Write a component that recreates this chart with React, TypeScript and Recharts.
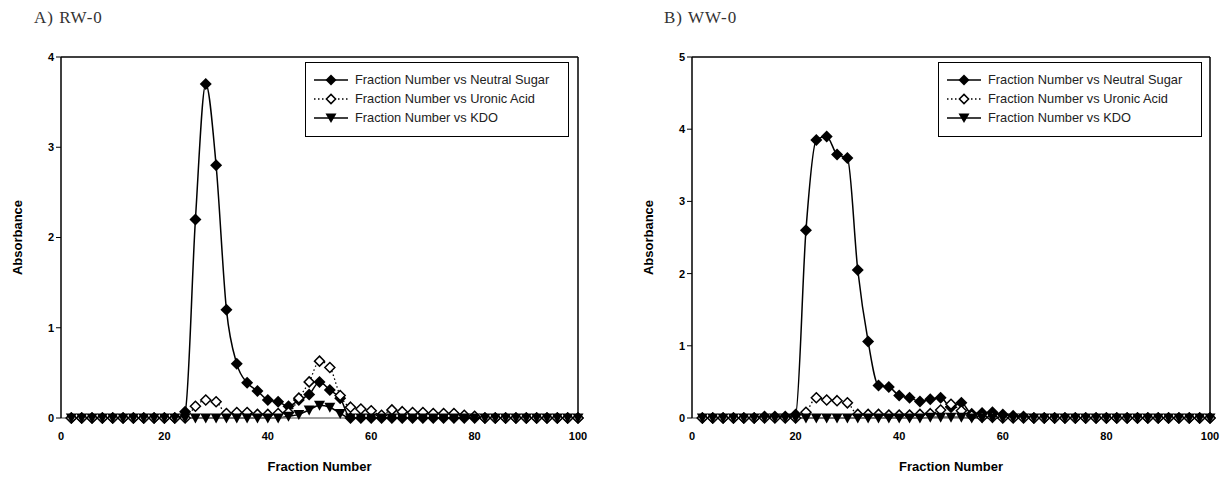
import React from 'react';
import { LineChart, Line, XAxis, YAxis, ReferenceLine } from 'recharts';

// fraction numbers (x categories)
const fractions = [
  2, 4, 6, 8, 10, 12, 14, 16, 18, 20, 22, 24, 26, 28, 30, 32, 34, 36, 38, 40, 42, 44, 46, 48, 50,
  52, 54, 56, 58, 60, 62, 64, 66, 68, 70, 72, 74, 76, 78, 80, 82, 84, 86, 88, 90, 92, 94, 96, 98, 100,
];

// A) RW-0
const rwNeutralSugar = [
  0, 0, 0, 0, 0, 0, 0, 0, 0, 0, 0, 0.07, 2.2, 3.7, 2.8, 1.2, 0.6, 0.39, 0.3, 0.2, 0.18, 0.13, 0.2, 0.26, 0.4,
  0.31, 0.22, 0, 0, 0, 0, 0, 0, 0, 0, 0, 0, 0, 0, 0, 0, 0, 0, 0, 0, 0, 0, 0, 0, 0,
];
const rwUronicAcid = [
  0, 0, 0, 0, 0, 0, 0, 0, 0, 0, 0, 0, 0.13, 0.2, 0.18, 0.05, 0.06, 0.06, 0.04, 0.04, 0.05, 0.06, 0.22, 0.4, 0.63,
  0.56, 0.25, 0.12, 0.1, 0.08, 0.03, 0.09, 0.07, 0.06, 0.06, 0.05, 0.05, 0.05, 0.03, 0.02, 0, 0, 0, 0, 0, 0, 0, 0, 0, 0,
];
const rwKdo = [
  0, 0, 0, 0, 0, 0, 0, 0, 0, 0, 0, 0, 0, 0, 0, 0, 0, 0, 0, 0, 0, 0.02, 0.04, 0.09, 0.14,
  0.12, 0.05, 0, 0, 0, 0, 0, 0, 0, 0, 0, 0, 0, 0, 0, 0, 0, 0, 0, 0, 0, 0, 0, 0, 0,
];

// B) WW-0
const wwNeutralSugar = [
  0, 0, 0, 0, 0, 0, 0.02, 0.02, 0.02, 0.05, 2.6, 3.85, 3.9, 3.65, 3.6, 2.05, 1.06, 0.45, 0.43, 0.31, 0.28, 0.23, 0.26, 0.28, 0.15,
  0.21, 0.06, 0.07, 0.08, 0.05, 0.03, 0.02, 0, 0, 0, 0, 0, 0, 0, 0, 0, 0, 0, 0, 0, 0, 0, 0, 0, 0,
];
const wwUronicAcid = [
  0, 0, 0, 0, 0, 0, 0, 0, 0, 0, 0.08, 0.28, 0.25, 0.24, 0.21, 0.05, 0.05, 0.05, 0.04, 0.04, 0.04, 0.05, 0.06, 0.11, 0.19,
  0.1, 0.03, 0.01, 0.01, 0, 0, 0, 0, 0, 0, 0, 0, 0, 0, 0, 0, 0, 0, 0, 0, 0, 0, 0, 0, 0,
];
const wwKdo = [
  0, 0, 0, 0, 0, 0, 0, 0, 0, 0, 0, 0, 0, 0, 0, 0, 0, 0, 0, 0, 0, 0, 0.01, 0.01, 0.01,
  0.01, 0, 0, 0, 0, 0, 0, 0, 0, 0, 0, 0, 0, 0, 0, 0, 0, 0, 0, 0, 0, 0, 0, 0, 0,
];

const xTicks = [0, 20, 40, 60, 80, 100];
const rwYTicks = [0, 1, 2, 3, 4];
const wwYTicks = [0, 1, 2, 3, 4, 5];

const seriesNames = [
  'Fraction Number vs Neutral Sugar',
  'Fraction Number vs Uronic Acid',
  'Fraction Number vs KDO',
];

const buildRows = (ns: number[], ua: number[], kdo: number[]) =>
  fractions.map((f, i) => ({ fraction: f, neutral: ns[i], uronic: ua[i], kdo: kdo[i] }));

const diamondPath = (cx: number, cy: number, r: number) =>
  `M${cx},${cy - r}L${cx + r},${cy}L${cx},${cy + r}L${cx - r},${cy}Z`;

const FilledDiamond = (props: any) => {
  const { cx, cy, index } = props;
  if (cx == null || cy == null) return <g key={index} />;
  return <path key={index} d={diamondPath(cx, cy, 6)} fill="#000" />;
};

const OpenDiamond = (props: any) => {
  const { cx, cy, index } = props;
  if (cx == null || cy == null) return <g key={index} />;
  return <path key={index} d={diamondPath(cx, cy, 5)} fill="#fff" stroke="#000" strokeWidth={1.5} />;
};

const DownTriangle = (props: any) => {
  const { cx, cy, index } = props;
  if (cx == null || cy == null) return <g key={index} />;
  return <path key={index} d={`M${cx - 5.5},${cy - 4.5}L${cx + 5.5},${cy - 4.5}L${cx},${cy + 5.5}Z`} fill="#000" />;
};

const LegendBox = ({ left, top, width }: { left: number; top: number; width: number }) => {
  const row = { display: 'flex', alignItems: 'center', height: 19 };
  const txt = { fontFamily: 'Arial, "Liberation Sans", sans-serif', fontSize: 12.8, color: '#222', whiteSpace: 'nowrap' as const };
  return (
    <div
      style={{
        position: 'absolute',
        left,
        top,
        width,
        boxSizing: 'border-box',
        border: '1.5px solid #000',
        background: '#fff',
        padding: '7px 0 9px 7px',
      }}
    >
      <div style={row}>
        <svg width={42} height={16}>
          <line x1={1} y1={8} x2={35} y2={8} stroke="#000" strokeWidth={1.5} />
          <path d={diamondPath(18, 8, 5.5)} fill="#000" />
        </svg>
        <span style={txt}>{seriesNames[0]}</span>
      </div>
      <div style={row}>
        <svg width={42} height={16}>
          <line x1={1} y1={8} x2={35} y2={8} stroke="#000" strokeWidth={1.5} strokeDasharray="1.5 2.5" />
          <path d={diamondPath(18, 8, 4.6)} fill="#fff" stroke="#000" strokeWidth={1.5} />
        </svg>
        <span style={txt}>{seriesNames[1]}</span>
      </div>
      <div style={row}>
        <svg width={42} height={16}>
          <line x1={1} y1={8} x2={35} y2={8} stroke="#000" strokeWidth={1.5} />
          <path d="M12.5,3.5L23.5,3.5L18,13Z" fill="#000" />
        </svg>
        <span style={txt}>{seriesNames[2]}</span>
      </div>
    </div>
  );
};

const tickFont = { fontFamily: 'Arial, "Liberation Sans", sans-serif', fontSize: 11, fontWeight: 700, fill: '#000' };
const titleFont = { fontFamily: 'Arial, "Liberation Sans", sans-serif', fontSize: 13, fontWeight: 700, fill: '#000' };

type PanelProps = {
  rows: any[];
  yMax: number;
  yTicks: number[];
  marginLeft: number;
  marginRight: number;
};

const Panel = ({ rows, yMax, yTicks, marginLeft, marginRight }: PanelProps) => (
  <LineChart
    width={615}
    height={481}
    data={rows}
    margin={{ top: 57, right: marginRight, left: marginLeft, bottom: 6 }}
  >
    <XAxis
      type="number"
      dataKey="fraction"
      domain={[0, 100]}
      ticks={xTicks}
      axisLine={{ stroke: '#808080', strokeWidth: 1.5 }}
      tickLine={false}
      tick={tickFont}
      tickMargin={8}
      height={57}
      label={{ value: 'Fraction Number', position: 'insideBottom', offset: 4, style: titleFont }}
    />
    <YAxis
      type="number"
      domain={[0, yMax]}
      ticks={yTicks}
      axisLine={{ stroke: '#000', strokeWidth: 1.5 }}
      tickLine={{ stroke: '#000' }}
      tickSize={5}
      tick={tickFont}
      width={50}
      label={{ value: 'Absorbance', angle: -90, position: 'insideLeft', offset: 6, style: { ...titleFont, textAnchor: 'middle' } }}
    />
    <ReferenceLine y={yMax} stroke="#000" strokeWidth={1.5} />
    <ReferenceLine x={100} stroke="#000" strokeWidth={1.5} />
    <Line
      type="monotone"
      dataKey="neutral"
      stroke="#000"
      strokeWidth={1.5}
      dot={FilledDiamond}
      activeDot={false}
      isAnimationActive={false}
    />
    <Line
      type="monotone"
      dataKey="uronic"
      stroke="#000"
      strokeWidth={1.3}
      strokeDasharray="1.5 2.5"
      dot={OpenDiamond}
      activeDot={false}
      isAnimationActive={false}
    />
    <Line
      type="monotone"
      dataKey="kdo"
      stroke="#000"
      strokeWidth={1.5}
      dot={DownTriangle}
      activeDot={false}
      isAnimationActive={false}
    />
  </LineChart>
);

const panelTitle = {
  position: 'absolute' as const,
  top: 8,
  fontFamily: '"Liberation Serif", "DejaVu Serif", serif',
  fontSize: 17,
  color: '#333',
  letterSpacing: 1,
};

export default function App() {
  return (
    <div style={{ position: 'absolute', left: 0, top: 0, width: 1230, height: 481, background: '#fff', overflow: 'hidden' }}>
      <div style={{ ...panelTitle, left: 34 }}>A) RW-0</div>
      <div style={{ ...panelTitle, left: 664 }}>B) WW-0</div>
      <div style={{ position: 'absolute', left: 0, top: 0, width: 615, height: 481 }}>
        <Panel
          rows={buildRows(rwNeutralSugar, rwUronicAcid, rwKdo)}
          yMax={4}
          yTicks={rwYTicks}
          marginLeft={11}
          marginRight={37}
        />
        <LegendBox left={305} top={62} width={264} />
      </div>
      <div style={{ position: 'absolute', left: 615, top: 0, width: 615, height: 481 }}>
        <Panel
          rows={buildRows(wwNeutralSugar, wwUronicAcid, wwKdo)}
          yMax={5}
          yTicks={wwYTicks}
          marginLeft={27}
          marginRight={20}
        />
        <LegendBox left={323} top={62} width={264} />
      </div>
    </div>
  );
}
